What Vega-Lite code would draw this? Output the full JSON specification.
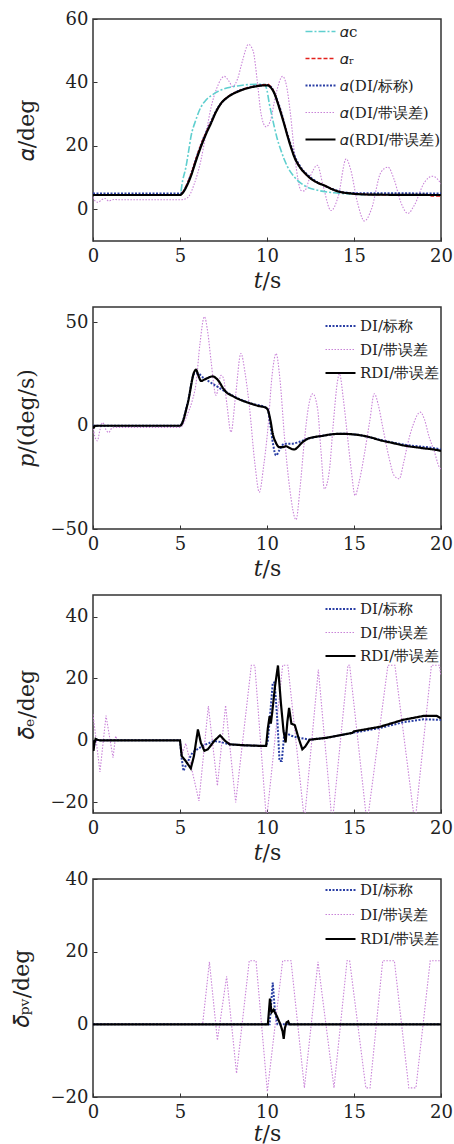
{
"$schema":"https://vega.github.io/schema/vega-lite/v6.json",
"padding":{"left":9,"top":9,"right":0,"bottom":0},
"spacing":66,
"bounds":"flush",
"resolve":{"scale":{"color":"independent","strokeDash":"independent","strokeWidth":"independent"}},
"datasets":{
"a":[
{"t":0,"v":3.8,"s":"p"},{"t":0.15,"v":2.5,"s":"p"},{"t":0.3,"v":2.2,"s":"p"},{"t":0.5,"v":3.0,"s":"p"},{"t":0.7,"v":3.4,"s":"p"},{"t":0.9,"v":2.6,"s":"p"},{"t":1.2,"v":3.1,"s":"p"},{"t":1.6,"v":3.0,"s":"p"},{"t":5.0,"v":3.0,"s":"p"},{"t":5.4,"v":3.5,"s":"p"},{"t":5.82,"v":8.0,"s":"p"},{"t":6.2,"v":15.4,"s":"p"},{"t":6.5,"v":24,"s":"p"},{"t":6.78,"v":32,"s":"p"},{"t":7.1,"v":38,"s":"p"},{"t":7.55,"v":41.9,"s":"p"},{"t":7.8,"v":40.5,"s":"p"},{"t":8.03,"v":38.7,"s":"p"},{"t":8.3,"v":41,"s":"p"},{"t":8.6,"v":47,"s":"p"},{"t":8.93,"v":52,"s":"p"},{"t":9.2,"v":50,"s":"p"},{"t":9.45,"v":40,"s":"p"},{"t":9.66,"v":30,"s":"p"},{"t":9.94,"v":26,"s":"p"},{"t":10.2,"v":28,"s":"p"},{"t":10.5,"v":36,"s":"p"},{"t":10.9,"v":41.9,"s":"p"},{"t":11.1,"v":39.5,"s":"p"},{"t":11.35,"v":30,"s":"p"},{"t":11.6,"v":16.5,"s":"p"},{"t":11.97,"v":5.9,"s":"p"},{"t":12.15,"v":5.8,"s":"p"},{"t":12.5,"v":10.6,"s":"p"},{"t":12.9,"v":13.9,"s":"p"},{"t":13.2,"v":8,"s":"p"},{"t":13.68,"v":-0.4,"s":"p"},{"t":14.1,"v":4.2,"s":"p"},{"t":14.55,"v":15.9,"s":"p"},{"t":14.8,"v":12.7,"s":"p"},{"t":15.2,"v":2.1,"s":"p"},{"t":15.6,"v":-3.7,"s":"p"},{"t":16,"v":0,"s":"p"},{"t":16.55,"v":11.7,"s":"p"},{"t":16.95,"v":13.3,"s":"p"},{"t":17.3,"v":9.5,"s":"p"},{"t":17.7,"v":2.1,"s":"p"},{"t":18.1,"v":-1.3,"s":"p"},{"t":18.45,"v":1.1,"s":"p"},{"t":19.05,"v":8.5,"s":"p"},{"t":19.5,"v":10.4,"s":"p"},{"t":19.8,"v":9.5,"s":"p"},{"t":20,"v":8,"s":"p"},
{"t":0,"v":4.5,"s":"c"},{"t":5.0,"v":4.5,"s":"c"},{"t":5.15,"v":9,"s":"c"},{"t":5.34,"v":13.3,"s":"c"},{"t":5.5,"v":18.5,"s":"c"},{"t":5.63,"v":22.9,"s":"c"},{"t":5.9,"v":28,"s":"c"},{"t":6.2,"v":32.2,"s":"c"},{"t":6.5,"v":34.5,"s":"c"},{"t":6.78,"v":35.8,"s":"c"},{"t":7.2,"v":37.2,"s":"c"},{"t":7.74,"v":38.3,"s":"c"},{"t":8.3,"v":38.9,"s":"c"},{"t":8.89,"v":39.3,"s":"c"},{"t":9.4,"v":39.4,"s":"c"},{"t":9.85,"v":39.4,"s":"c"},{"t":10.0,"v":37.5,"s":"c"},{"t":10.13,"v":33.4,"s":"c"},{"t":10.28,"v":29.5,"s":"c"},{"t":10.42,"v":26,"s":"c"},{"t":10.6,"v":22,"s":"c"},{"t":10.8,"v":18.6,"s":"c"},{"t":11.0,"v":15.6,"s":"c"},{"t":11.19,"v":13.3,"s":"c"},{"t":11.57,"v":10.2,"s":"c"},{"t":12.14,"v":7.5,"s":"c"},{"t":12.91,"v":6.0,"s":"c"},{"t":13.87,"v":5.2,"s":"c"},{"t":14.8,"v":4.8,"s":"c"},{"t":16,"v":4.6,"s":"c"},{"t":20,"v":4.5,"s":"c"},
{"t":0,"v":5.0,"s":"b"},{"t":5.0,"v":5.0,"s":"b"},{"t":5.2,"v":5.6,"s":"b"},{"t":5.4,"v":7.8,"s":"b"},{"t":5.63,"v":11,"s":"b"},{"t":5.9,"v":15.5,"s":"b"},{"t":6.2,"v":20.3,"s":"b"},{"t":6.5,"v":24.3,"s":"b"},{"t":6.78,"v":27.6,"s":"b"},{"t":7.05,"v":30.8,"s":"b"},{"t":7.36,"v":33.4,"s":"b"},{"t":7.7,"v":35.2,"s":"b"},{"t":8.12,"v":36.7,"s":"b"},{"t":8.89,"v":38.3,"s":"b"},{"t":9.66,"v":39.1,"s":"b"},{"t":10.05,"v":39.2,"s":"b"},{"t":10.25,"v":38.5,"s":"b"},{"t":10.45,"v":36.3,"s":"b"},{"t":10.65,"v":33.5,"s":"b"},{"t":10.85,"v":30,"s":"b"},{"t":11.05,"v":26,"s":"b"},{"t":11.25,"v":22.3,"s":"b"},{"t":11.45,"v":19,"s":"b"},{"t":11.65,"v":16,"s":"b"},{"t":11.85,"v":14,"s":"b"},{"t":12.05,"v":12.4,"s":"b"},{"t":12.35,"v":10.8,"s":"b"},{"t":12.65,"v":9.4,"s":"b"},{"t":13.0,"v":8.2,"s":"b"},{"t":13.4,"v":7.2,"s":"b"},{"t":13.9,"v":6.1,"s":"b"},{"t":14.35,"v":5.4,"s":"b"},{"t":15,"v":5.1,"s":"b"},{"t":20,"v":5.0,"s":"b"},
{"t":0,"v":4.5,"s":"r"},{"t":5.0,"v":4.5,"s":"r"},{"t":5.2,"v":5.7,"s":"r"},{"t":5.4,"v":7.9,"s":"r"},{"t":5.63,"v":11.0,"s":"r"},{"t":5.9,"v":15.6,"s":"r"},{"t":6.2,"v":20.3,"s":"r"},{"t":6.5,"v":24.2,"s":"r"},{"t":6.78,"v":27.4,"s":"r"},{"t":7.05,"v":30.6,"s":"r"},{"t":7.36,"v":33.4,"s":"r"},{"t":7.7,"v":35.3,"s":"r"},{"t":8.12,"v":36.7,"s":"r"},{"t":8.89,"v":38.3,"s":"r"},{"t":9.66,"v":39.2,"s":"r"},{"t":10.05,"v":39.4,"s":"r"},{"t":10.2,"v":38.7,"s":"r"},{"t":10.42,"v":36.8,"s":"r"},{"t":10.6,"v":34,"s":"r"},{"t":10.8,"v":30.5,"s":"r"},{"t":11.0,"v":26.8,"s":"r"},{"t":11.19,"v":23.1,"s":"r"},{"t":11.57,"v":16.6,"s":"r"},{"t":11.95,"v":12.9,"s":"r"},{"t":12.53,"v":9.6,"s":"r"},{"t":13.3,"v":7.5,"s":"r"},{"t":14.25,"v":5.4,"s":"r"},{"t":15.5,"v":4.7,"s":"r"},{"t":18,"v":4.5,"s":"r"},{"t":19.3,"v":4.5,"s":"r"},{"t":19.5,"v":4.2,"s":"r"},{"t":20,"v":4.2,"s":"r"},
{"t":0,"v":4.5,"s":"k"},{"t":5.0,"v":4.5,"s":"k"},{"t":5.2,"v":5.5,"s":"k"},{"t":5.4,"v":7.5,"s":"k"},{"t":5.63,"v":10.5,"s":"k"},{"t":5.9,"v":15,"s":"k"},{"t":6.2,"v":19.7,"s":"k"},{"t":6.5,"v":23.8,"s":"k"},{"t":6.78,"v":27.1,"s":"k"},{"t":7.05,"v":30.5,"s":"k"},{"t":7.36,"v":33.4,"s":"k"},{"t":7.7,"v":35.2,"s":"k"},{"t":8.12,"v":36.6,"s":"k"},{"t":8.5,"v":37.5,"s":"k"},{"t":8.89,"v":38.2,"s":"k"},{"t":9.3,"v":38.7,"s":"k"},{"t":9.66,"v":39.0,"s":"k"},{"t":10.05,"v":39.1,"s":"k"},{"t":10.2,"v":38.5,"s":"k"},{"t":10.42,"v":36.6,"s":"k"},{"t":10.6,"v":33.8,"s":"k"},{"t":10.8,"v":30.3,"s":"k"},{"t":11.0,"v":26.6,"s":"k"},{"t":11.19,"v":22.9,"s":"k"},{"t":11.38,"v":19.5,"s":"k"},{"t":11.57,"v":16.5,"s":"k"},{"t":11.76,"v":14.4,"s":"k"},{"t":11.95,"v":12.8,"s":"k"},{"t":12.25,"v":11.0,"s":"k"},{"t":12.53,"v":9.6,"s":"k"},{"t":12.9,"v":8.4,"s":"k"},{"t":13.3,"v":7.5,"s":"k"},{"t":13.8,"v":6.2,"s":"k"},{"t":14.25,"v":5.4,"s":"k"},{"t":14.8,"v":5.0,"s":"k"},{"t":15.5,"v":4.7,"s":"k"},{"t":16.5,"v":4.6,"s":"k"},{"t":20,"v":4.5,"s":"k"}
],
"p":[
{"t":0,"v":0,"s":"p"},{"t":0.1,"v":-5,"s":"p"},{"t":0.25,"v":-7.3,"s":"p"},{"t":0.4,"v":-2,"s":"p"},{"t":0.55,"v":1.6,"s":"p"},{"t":0.75,"v":-2,"s":"p"},{"t":0.9,"v":-3.3,"s":"p"},{"t":1.1,"v":-1,"s":"p"},{"t":1.4,"v":-0.8,"s":"p"},{"t":5.0,"v":-0.8,"s":"p"},{"t":5.44,"v":5.8,"s":"p"},{"t":5.7,"v":12,"s":"p"},{"t":5.92,"v":20.4,"s":"p"},{"t":6.15,"v":40,"s":"p"},{"t":6.4,"v":52.8,"s":"p"},{"t":6.6,"v":45,"s":"p"},{"t":6.78,"v":31.7,"s":"p"},{"t":7.07,"v":14.7,"s":"p"},{"t":7.36,"v":24.4,"s":"p"},{"t":7.5,"v":23,"s":"p"},{"t":7.7,"v":10,"s":"p"},{"t":7.93,"v":-3.1,"s":"p"},{"t":8.2,"v":15,"s":"p"},{"t":8.5,"v":35,"s":"p"},{"t":8.75,"v":25,"s":"p"},{"t":8.98,"v":10,"s":"p"},{"t":9.3,"v":-18,"s":"p"},{"t":9.56,"v":-32.2,"s":"p"},{"t":9.8,"v":-20,"s":"p"},{"t":10.04,"v":-2.3,"s":"p"},{"t":10.3,"v":25,"s":"p"},{"t":10.52,"v":35,"s":"p"},{"t":10.75,"v":22,"s":"p"},{"t":11.0,"v":-5,"s":"p"},{"t":11.3,"v":-30,"s":"p"},{"t":11.67,"v":-45.5,"s":"p"},{"t":11.9,"v":-30,"s":"p"},{"t":12.14,"v":-8,"s":"p"},{"t":12.4,"v":10,"s":"p"},{"t":12.63,"v":15.5,"s":"p"},{"t":12.91,"v":8,"s":"p"},{"t":13.1,"v":-12,"s":"p"},{"t":13.3,"v":-30.6,"s":"p"},{"t":13.58,"v":-22,"s":"p"},{"t":13.8,"v":0,"s":"p"},{"t":14.06,"v":22,"s":"p"},{"t":14.16,"v":25.2,"s":"p"},{"t":14.4,"v":12,"s":"p"},{"t":14.63,"v":-5.5,"s":"p"},{"t":14.85,"v":-22,"s":"p"},{"t":15.06,"v":-33.8,"s":"p"},{"t":15.3,"v":-27,"s":"p"},{"t":15.6,"v":-13.6,"s":"p"},{"t":15.9,"v":2,"s":"p"},{"t":16.17,"v":15.5,"s":"p"},{"t":16.4,"v":10,"s":"p"},{"t":16.65,"v":-0.6,"s":"p"},{"t":17.0,"v":-15,"s":"p"},{"t":17.3,"v":-24,"s":"p"},{"t":17.6,"v":-25.7,"s":"p"},{"t":17.85,"v":-18,"s":"p"},{"t":18.08,"v":-9,"s":"p"},{"t":18.4,"v":0.5,"s":"p"},{"t":18.81,"v":6.6,"s":"p"},{"t":19.05,"v":3,"s":"p"},{"t":19.32,"v":-5.5,"s":"p"},{"t":19.6,"v":-12,"s":"p"},{"t":19.9,"v":-20,"s":"p"},{"t":20,"v":-21,"s":"p"},
{"t":0,"v":0,"s":"b"},{"t":5.0,"v":0,"s":"b"},{"t":5.44,"v":11,"s":"b"},{"t":5.82,"v":25.2,"s":"b"},{"t":6.0,"v":25.5,"s":"b"},{"t":6.3,"v":23.5,"s":"b"},{"t":6.6,"v":21.8,"s":"b"},{"t":7.17,"v":18.8,"s":"b"},{"t":7.74,"v":15.9,"s":"b"},{"t":8.32,"v":13.3,"s":"b"},{"t":9.08,"v":10.8,"s":"b"},{"t":9.94,"v":8.8,"s":"b"},{"t":10.04,"v":8,"s":"b"},{"t":10.2,"v":0,"s":"b"},{"t":10.35,"v":-9,"s":"b"},{"t":10.52,"v":-14.4,"s":"b"},{"t":10.7,"v":-12,"s":"b"},{"t":11.0,"v":-8.7,"s":"b"},{"t":11.4,"v":-8.7,"s":"b"},{"t":11.8,"v":-8,"s":"b"},{"t":12.34,"v":-6.3,"s":"b"},{"t":13.1,"v":-5,"s":"b"},{"t":14.25,"v":-3.9,"s":"b"},{"t":15.2,"v":-4.4,"s":"b"},{"t":16.55,"v":-6.9,"s":"b"},{"t":17.9,"v":-9.2,"s":"b"},{"t":19.9,"v":-11.3,"s":"b"},{"t":20,"v":-11.5,"s":"b"},
{"t":0,"v":0,"s":"k"},{"t":0.05,"v":-1,"s":"k"},{"t":0.1,"v":0,"s":"k"},{"t":5.0,"v":0,"s":"k"},{"t":5.44,"v":10.7,"s":"k"},{"t":5.82,"v":26.1,"s":"k"},{"t":5.92,"v":27.2,"s":"k"},{"t":6.05,"v":24.5,"s":"k"},{"t":6.21,"v":21.7,"s":"k"},{"t":6.5,"v":22.8,"s":"k"},{"t":6.88,"v":23.9,"s":"k"},{"t":7.1,"v":22.8,"s":"k"},{"t":7.26,"v":21.2,"s":"k"},{"t":7.45,"v":18.5,"s":"k"},{"t":7.64,"v":16.4,"s":"k"},{"t":8.0,"v":14.5,"s":"k"},{"t":8.32,"v":13.1,"s":"k"},{"t":8.7,"v":11.8,"s":"k"},{"t":9.08,"v":10.7,"s":"k"},{"t":9.5,"v":9.6,"s":"k"},{"t":9.94,"v":8.7,"s":"k"},{"t":10.04,"v":7.8,"s":"k"},{"t":10.2,"v":2.5,"s":"k"},{"t":10.33,"v":-3.9,"s":"k"},{"t":10.5,"v":-8,"s":"k"},{"t":10.71,"v":-10.4,"s":"k"},{"t":10.9,"v":-10.4,"s":"k"},{"t":11.09,"v":-9.9,"s":"k"},{"t":11.28,"v":-10.7,"s":"k"},{"t":11.57,"v":-11.5,"s":"k"},{"t":11.75,"v":-10.5,"s":"k"},{"t":11.95,"v":-8.7,"s":"k"},{"t":12.34,"v":-6.3,"s":"k"},{"t":12.7,"v":-5.5,"s":"k"},{"t":13.1,"v":-5,"s":"k"},{"t":13.68,"v":-4.2,"s":"k"},{"t":14.25,"v":-3.9,"s":"k"},{"t":15.2,"v":-4.4,"s":"k"},{"t":15.9,"v":-5.5,"s":"k"},{"t":16.55,"v":-7.1,"s":"k"},{"t":17.2,"v":-8.3,"s":"k"},{"t":17.9,"v":-9.6,"s":"k"},{"t":18.9,"v":-10.8,"s":"k"},{"t":19.9,"v":-12,"s":"k"},{"t":20,"v":-12.2,"s":"k"}
],
"d":[
{"t":0,"v":8.4,"s":"p"},{"t":0.15,"v":1.5,"s":"p"},{"t":0.4,"v":-10.2,"s":"p"},{"t":0.75,"v":8,"s":"p"},{"t":1.15,"v":-5.6,"s":"p"},{"t":1.3,"v":1.4,"s":"p"},{"t":1.4,"v":0,"s":"p"},{"t":5.0,"v":0,"s":"p"},{"t":5.15,"v":-4,"s":"p"},{"t":5.33,"v":-1,"s":"p"},{"t":5.5,"v":-5,"s":"p"},{"t":6.09,"v":-19.6,"s":"p"},{"t":6.63,"v":11.1,"s":"p"},{"t":7.15,"v":-14.7,"s":"p"},{"t":7.62,"v":11.3,"s":"p"},{"t":8.2,"v":-20.1,"s":"p"},{"t":9.1,"v":24.3,"s":"p"},{"t":9.3,"v":24.3,"s":"p"},{"t":9.97,"v":-26,"s":"p"},{"t":10.9,"v":24.3,"s":"p"},{"t":11.2,"v":24.3,"s":"p"},{"t":12.15,"v":-26,"s":"p"},{"t":12.95,"v":22.9,"s":"p"},{"t":13.75,"v":-27,"s":"p"},{"t":14.65,"v":24.3,"s":"p"},{"t":14.75,"v":24.3,"s":"p"},{"t":15.75,"v":-27,"s":"p"},{"t":16.95,"v":24.3,"s":"p"},{"t":17.35,"v":24.3,"s":"p"},{"t":18.5,"v":-27,"s":"p"},{"t":19.45,"v":24.3,"s":"p"},{"t":19.9,"v":24.3,"s":"p"},{"t":20,"v":21,"s":"p"},
{"t":0,"v":0,"s":"b"},{"t":0.05,"v":-2,"s":"b"},{"t":0.15,"v":0.3,"s":"b"},{"t":0.4,"v":0,"s":"b"},{"t":5.0,"v":0,"s":"b"},{"t":5.1,"v":-6,"s":"b"},{"t":5.2,"v":-9.9,"s":"b"},{"t":5.33,"v":-8.2,"s":"b"},{"t":5.72,"v":-3.9,"s":"b"},{"t":6.3,"v":-1.8,"s":"b"},{"t":6.95,"v":-0.2,"s":"b"},{"t":7.3,"v":-0.5,"s":"b"},{"t":7.85,"v":-1.3,"s":"b"},{"t":8.7,"v":-1.6,"s":"b"},{"t":9.66,"v":-1.8,"s":"b"},{"t":9.95,"v":-1.8,"s":"b"},{"t":10.05,"v":0,"s":"b"},{"t":10.15,"v":6.2,"s":"b"},{"t":10.33,"v":18.6,"s":"b"},{"t":10.44,"v":18.7,"s":"b"},{"t":10.6,"v":6,"s":"b"},{"t":10.72,"v":-6.7,"s":"b"},{"t":10.85,"v":-6.7,"s":"b"},{"t":11.0,"v":2.6,"s":"b"},{"t":11.4,"v":1.5,"s":"b"},{"t":11.7,"v":1,"s":"b"},{"t":12.45,"v":0.2,"s":"b"},{"t":13.4,"v":0.8,"s":"b"},{"t":15.0,"v":2.5,"s":"b"},{"t":16.5,"v":4,"s":"b"},{"t":17.8,"v":5.8,"s":"b"},{"t":19.0,"v":6.8,"s":"b"},{"t":20,"v":6.6,"s":"b"},
{"t":0,"v":0,"s":"k"},{"t":0.03,"v":-3.4,"s":"k"},{"t":0.08,"v":-1,"s":"k"},{"t":0.15,"v":0.5,"s":"k"},{"t":0.25,"v":0.2,"s":"k"},{"t":0.4,"v":0,"s":"k"},{"t":5.0,"v":0,"s":"k"},{"t":5.1,"v":-5.1,"s":"k"},{"t":5.33,"v":-6.7,"s":"k"},{"t":5.62,"v":-9.1,"s":"k"},{"t":5.8,"v":-5.1,"s":"k"},{"t":6.03,"v":3.5,"s":"k"},{"t":6.2,"v":-0.8,"s":"k"},{"t":6.4,"v":-3.4,"s":"k"},{"t":6.6,"v":-2.9,"s":"k"},{"t":7.0,"v":0,"s":"k"},{"t":7.3,"v":1.6,"s":"k"},{"t":7.6,"v":-0.2,"s":"k"},{"t":7.85,"v":-1.3,"s":"k"},{"t":8.7,"v":-1.6,"s":"k"},{"t":9.66,"v":-1.8,"s":"k"},{"t":9.95,"v":-1.8,"s":"k"},{"t":10.05,"v":4,"s":"k"},{"t":10.15,"v":7.8,"s":"k"},{"t":10.22,"v":5.4,"s":"k"},{"t":10.3,"v":9,"s":"k"},{"t":10.45,"v":17,"s":"k"},{"t":10.63,"v":24.2,"s":"k"},{"t":10.8,"v":12,"s":"k"},{"t":10.95,"v":3,"s":"k"},{"t":11.07,"v":-0.7,"s":"k"},{"t":11.17,"v":6,"s":"k"},{"t":11.27,"v":10.5,"s":"k"},{"t":11.4,"v":5.4,"s":"k"},{"t":11.6,"v":4.9,"s":"k"},{"t":11.8,"v":1,"s":"k"},{"t":12.03,"v":-2.9,"s":"k"},{"t":12.2,"v":-2,"s":"k"},{"t":12.45,"v":0.2,"s":"k"},{"t":13.4,"v":0.8,"s":"k"},{"t":14.9,"v":2.4,"s":"k"},{"t":15.0,"v":2.9,"s":"k"},{"t":16.5,"v":4.4,"s":"k"},{"t":17.8,"v":6.6,"s":"k"},{"t":19.0,"v":7.9,"s":"k"},{"t":19.75,"v":7.9,"s":"k"},{"t":20,"v":7.1,"s":"k"}
],
"v":[
{"t":0,"v":0,"s":"p"},{"t":6.3,"v":0,"s":"p"},{"t":6.69,"v":17.2,"s":"p"},{"t":7.15,"v":-4.4,"s":"p"},{"t":7.68,"v":13.2,"s":"p"},{"t":8.25,"v":-13.5,"s":"p"},{"t":8.98,"v":17.5,"s":"p"},{"t":9.37,"v":17.5,"s":"p"},{"t":10.02,"v":-18.5,"s":"p"},{"t":10.9,"v":17.5,"s":"p"},{"t":11.38,"v":17.5,"s":"p"},{"t":12.15,"v":-17.5,"s":"p"},{"t":12.93,"v":17.2,"s":"p"},{"t":13.85,"v":-17.5,"s":"p"},{"t":14.6,"v":17.5,"s":"p"},{"t":14.75,"v":17.5,"s":"p"},{"t":15.68,"v":-17.5,"s":"p"},{"t":15.92,"v":-17.5,"s":"p"},{"t":16.65,"v":17.5,"s":"p"},{"t":17.32,"v":17.5,"s":"p"},{"t":18.15,"v":-17.5,"s":"p"},{"t":18.56,"v":-17.5,"s":"p"},{"t":19.38,"v":17.5,"s":"p"},{"t":20,"v":17.5,"s":"p"},
{"t":0,"v":0,"s":"b"},{"t":10.15,"v":0,"s":"b"},{"t":10.33,"v":11.5,"s":"b"},{"t":10.45,"v":4,"s":"b"},{"t":10.6,"v":0,"s":"b"},{"t":20,"v":0,"s":"b"},
{"t":0,"v":0,"s":"k"},{"t":10.05,"v":0,"s":"k"},{"t":10.17,"v":7.1,"s":"k"},{"t":10.26,"v":3.3,"s":"k"},{"t":10.38,"v":4.0,"s":"k"},{"t":10.57,"v":2.2,"s":"k"},{"t":10.77,"v":0,"s":"k"},{"t":10.9,"v":-2,"s":"k"},{"t":10.96,"v":-4.0,"s":"k"},{"t":11.03,"v":-1.0,"s":"k"},{"t":11.12,"v":0.5,"s":"k"},{"t":11.22,"v":0.8,"s":"k"},{"t":11.28,"v":0,"s":"k"},{"t":20,"v":0,"s":"k"}
]
},
"vconcat":[
{
"width":348,"height":222,
"data":{"name":"a"},
"mark":{"type":"line","clip":true,"interpolate":"monotone"},
"encoding":{
"x":{"field":"t","type":"quantitative","scale":{"domain":[0,20],"nice":false,"zero":false},"axis":{"values":[0,5,10,15,20],"title":"𝑡/s","titleY":39,"titleBaseline":"middle"}},
"y":{"field":"v","type":"quantitative","scale":{"domain":[-10,60],"nice":false,"zero":false},"axis":{"values":[0,20,40,60],"title":"𝛼/deg","titleX":-67,"titleBaseline":"middle"}},
"color":{"field":"s","type":"nominal","scale":{"domain":["c","r","b","p","k"],"range":["#5fcfcf","#e3211c","#2b3fa5","#c983d8","#000000"]},"legend":{"title":null,"legendX":211,"legendY":5,"rowPadding":11,"labelExpr":"{'c':'𝛼c','r':'𝛼ᵣ','b':'𝛼(DI/标称)','p':'𝛼(DI/带误差)','k':'𝛼(RDI/带误差)'}[datum.label]"}},
"strokeDash":{"field":"s","type":"nominal","scale":{"domain":["c","r","b","p","k"],"range":[[7,2,2,2],[4,2],[2,1.5],[1.5,1.5],[1,0]]}},
"strokeWidth":{"field":"s","type":"nominal","scale":{"type":"ordinal","domain":["c","r","b","p","k"],"range":[1.6,1.5,2,1.1,2.2]},"legend":null}
}
},
{
"width":348,"height":222,
"data":{"name":"p"},
"mark":{"type":"line","clip":true,"interpolate":"monotone"},
"encoding":{
"x":{"field":"t","type":"quantitative","scale":{"domain":[0,20],"nice":false,"zero":false},"axis":{"values":[0,5,10,15,20],"title":"𝑡/s","titleY":39,"titleBaseline":"middle"}},
"y":{"field":"v","type":"quantitative","scale":{"domain":[-50,57.5],"nice":false,"zero":false},"axis":{"values":[-50,0,50],"title":"𝑝/(deg/s)","titleX":-67,"titleBaseline":"middle"}},
"color":{"field":"s","type":"nominal","scale":{"domain":["b","p","k"],"range":["#2b3fa5","#c983d8","#000000"]},"legend":{"title":null,"legendX":231,"legendY":11.5,"rowPadding":7.5,"labelExpr":"{'b':'DI/标称','p':'DI/带误差','k':'RDI/带误差'}[datum.label]"}},
"strokeDash":{"field":"s","type":"nominal","scale":{"domain":["b","p","k"],"range":[[2,1.5],[1.5,1.5],[1,0]]}},
"strokeWidth":{"field":"s","type":"nominal","scale":{"type":"ordinal","domain":["b","p","k"],"range":[2,1.1,2.2]},"legend":null}
}
},
{
"width":348,"height":218,
"data":{"name":"d"},
"mark":{"type":"line","clip":true},
"encoding":{
"x":{"field":"t","type":"quantitative","scale":{"domain":[0,20],"nice":false,"zero":false},"axis":{"values":[0,5,10,15,20],"title":"𝑡/s","titleY":39,"titleBaseline":"middle"}},
"y":{"field":"v","type":"quantitative","scale":{"domain":[-23.5,47],"nice":false,"zero":false},"axis":{"values":[-20,0,20,40],"title":"𝛿ₑ/deg","titleX":-67,"titleBaseline":"middle"}},
"color":{"field":"s","type":"nominal","scale":{"domain":["b","p","k"],"range":["#2b3fa5","#c983d8","#000000"]},"legend":{"title":null,"legendX":231,"legendY":6.5,"rowPadding":7.5,"labelExpr":"{'b':'DI/标称','p':'DI/带误差','k':'RDI/带误差'}[datum.label]"}},
"strokeDash":{"field":"s","type":"nominal","scale":{"domain":["b","p","k"],"range":[[2,1.5],[1.5,1.5],[1,0]]}},
"strokeWidth":{"field":"s","type":"nominal","scale":{"type":"ordinal","domain":["b","p","k"],"range":[2,1.1,2.2]},"legend":null}
}
},
{
"width":348,"height":218,
"data":{"name":"v"},
"mark":{"type":"line","clip":true},
"encoding":{
"x":{"field":"t","type":"quantitative","scale":{"domain":[0,20],"nice":false,"zero":false},"axis":{"values":[0,5,10,15,20],"title":"𝑡/s","titleY":36,"titleBaseline":"middle"}},
"y":{"field":"v","type":"quantitative","scale":{"domain":[-20,40],"nice":false,"zero":false},"axis":{"values":[-20,0,20,40],"title":"𝛿ₚᵥ/deg","titleX":-72,"titleBaseline":"middle"}},
"color":{"field":"s","type":"nominal","scale":{"domain":["b","p","k"],"range":["#2b3fa5","#c983d8","#000000"]},"legend":{"title":null,"legendX":231,"legendY":3.5,"rowPadding":8.5,"labelExpr":"{'b':'DI/标称','p':'DI/带误差','k':'RDI/带误差'}[datum.label]"}},
"strokeDash":{"field":"s","type":"nominal","scale":{"domain":["b","p","k"],"range":[[2,1.5],[1.5,1.5],[1,0]]}},
"strokeWidth":{"field":"s","type":"nominal","scale":{"type":"ordinal","domain":["b","p","k"],"range":[2,1.1,2.2]},"legend":null}
}
}
],
"config":{
"font":"DejaVu Serif",
"view":{"stroke":"#333","strokeWidth":1.5},
"axis":{"grid":false,"domain":false,"labelFont":"DejaVu Serif","labelFontSize":18,"labelColor":"#222","labelFlush":false,"labelOverlap":false,"titleFont":"DejaVu Serif","titleFontSize":22,"titleFontWeight":"normal","titleColor":"#222","tickColor":"#333","tickSize":-4,"tickWidth":1},
"axisX":{"labelPadding":10},
"axisY":{"labelPadding":9},
"legend":{"orient":"none","symbolType":"stroke","symbolSize":900,"symbolStrokeWidth":1.5,"clipHeight":15,"labelFont":"DejaVu Serif","labelFontSize":15,"labelColor":"#222","labelOffset":3,"padding":0,"symbolOffset":0}
}
}
